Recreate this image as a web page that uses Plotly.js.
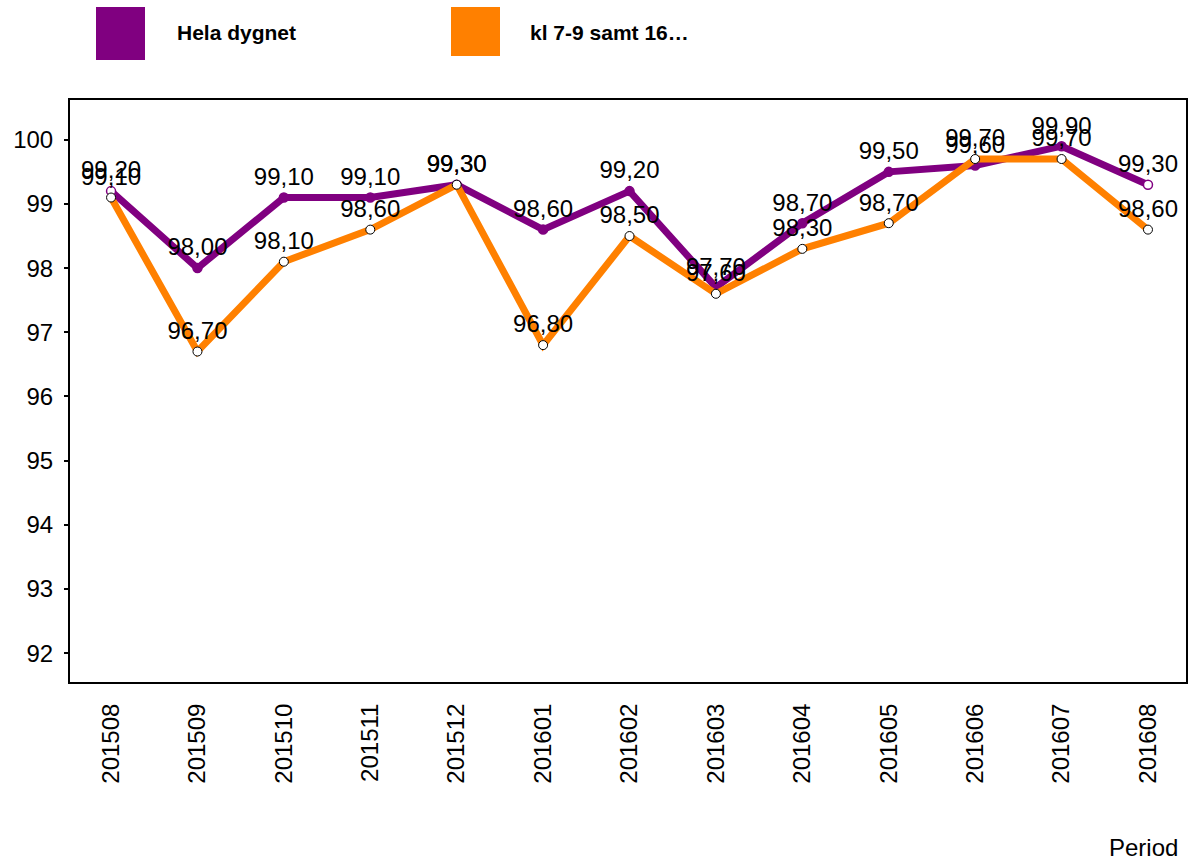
<!DOCTYPE html>
<html>
<head>
<meta charset="utf-8">
<script src="https://cdn.plot.ly/plotly-3.0.1.min.js"></script>
<style>html,body{margin:0;padding:0;background:#fff;}#chart{width:1194px;height:863px;}</style>
</head>
<body>
<div id="chart"></div>
<script>
const periods = ["201508","201509","201510","201511","201512","201601","201602","201603","201604","201605","201606","201607","201608"];
const helaDygnet = [99.2, 98.0, 99.1, 99.1, 99.3, 98.6, 99.2, 97.7, 98.7, 99.5, 99.6, 99.9, 99.3];
const rusningstid = [99.1, 96.7, 98.1, 98.6, 99.3, 96.8, 98.5, 97.6, 98.3, 98.7, 99.7, 99.7, 98.6];
const seriesNames = ["Hela dygnet", "kl 7-9 samt 16\u2026"];
const yTicks = [92, 93, 94, 95, 96, 97, 98, 99, 100];

const purple = "#800080";
const orange = "#FF8000";
const n = periods.length;
const purpleFill = periods.map((p, i) => (i === 0 || i === n - 1) ? "white" : purple);
const FONT = "Arial, Liberation Sans, sans-serif";

const traces = [
  {
    x: periods, y: helaDygnet, name: seriesNames[0], type: "scatter", mode: "lines+markers+text",
    line: {color: purple, width: 7},
    marker: {size: 9, color: purpleFill, line: {color: purple, width: 1.5}},
    texttemplate: "%{y:.2f}", textposition: "top center",
    textfont: {family: FONT, size: 24, color: "#000"},
    cliponaxis: false, hoverinfo: "skip"
  },
  {
    x: periods, y: rusningstid, name: seriesNames[1], type: "scatter", mode: "lines+markers+text",
    line: {color: orange, width: 7},
    marker: {size: 9, color: "white", line: {color: "#000", width: 1}},
    texttemplate: "%{y:.2f}", textposition: "top center",
    textfont: {family: FONT, size: 24, color: "#000"},
    cliponaxis: false, hoverinfo: "skip"
  }
];

const W = 1116, H = 582, TOP = 100;
const py = v => (TOP + H - v) / H;

const layout = {
  width: 1194, height: 863,
  margin: {l: 70, r: 8, t: 100, b: 181},
  paper_bgcolor: "white", plot_bgcolor: "white",
  separators: ", ",
  showlegend: false,
  font: {family: FONT, color: "#000", size: 24},
  xaxis: {
    type: "category", range: [-0.475, 12.44],
    showgrid: false, zeroline: false,
    showline: true, linecolor: "#000", linewidth: 2, mirror: true,
    ticks: "", tickangle: -90, tickfont: {family: FONT, size: 24, color: "#000"},
    ticklabelstandoff: 10
  },
  yaxis: {
    range: [91.55, 100.62], tickvals: yTicks,
    showgrid: false, zeroline: false,
    showline: true, linecolor: "#000", linewidth: 2, mirror: true,
    ticks: "outside", ticklen: 4, tickwidth: 2, tickcolor: "#000",
    tickfont: {family: FONT, size: 24, color: "#000"},
    ticklabelstandoff: 6
  },
  shapes: [
    {type: "rect", xref: "paper", yref: "paper", x0: 26/W, x1: 75/W, y0: py(60), y1: py(7), fillcolor: purple, line: {width: 0}},
    {type: "rect", xref: "paper", yref: "paper", x0: 381/W, x1: 430/W, y0: py(56), y1: py(7), fillcolor: orange, line: {width: 0}}
  ],
  annotations: [
    {xref: "paper", yref: "paper", x: 105/W, y: py(33), xanchor: "left", yanchor: "middle", text: "<b>" + seriesNames[0] + "</b>", showarrow: false, font: {family: FONT, size: 21, color: "#000"}},
    {xref: "paper", yref: "paper", x: 458/W, y: py(33), xanchor: "left", yanchor: "middle", text: "<b>" + seriesNames[1] + "</b>", showarrow: false, font: {family: FONT, size: 21, color: "#000"}},
    {xref: "paper", yref: "paper", x: 1110/W, y: py(848), xanchor: "right", yanchor: "middle", text: "Period", showarrow: false, font: {family: FONT, size: 24, color: "#000"}}
  ]
};

Plotly.newPlot("chart", traces, layout, {staticPlot: true, displayModeBar: false});
</script>
</body>
</html>
